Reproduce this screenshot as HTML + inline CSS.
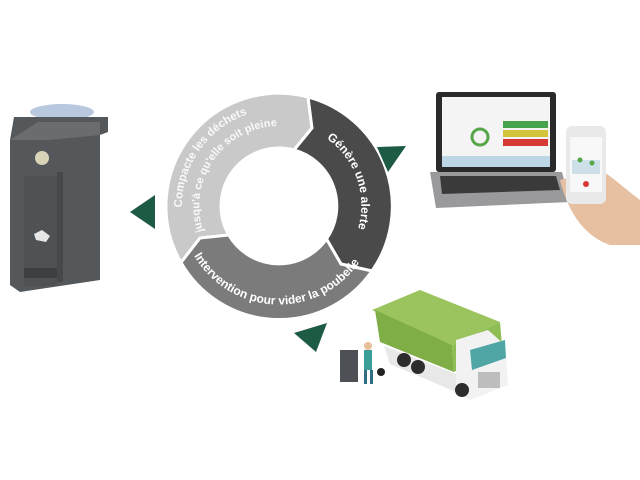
<!DOCTYPE html>
<html><head><meta charset="utf-8"><style>
html,body{margin:0;padding:0;background:#fff;width:640px;height:480px;overflow:hidden}
svg{display:block}
text{font-family:"Liberation Sans",sans-serif;font-weight:bold;fill:#fff}
</style></head><body>
<svg width="640" height="480" viewBox="0 0 640 480" xmlns="http://www.w3.org/2000/svg">
<defs>
<path id="tl1" d="M191,247 A97,97 0 0 1 287.5,109.4"/>
<path id="tl2" d="M204,233 A80,80 0 0 1 279,126"/>
<path id="td" d="M309,129 A82,82 0 0 1 350,247"/>
<path id="tm" d="M190,248 A98,98 0 0 0 364,255"/>
</defs>
<!-- ring -->
<g stroke="#fff" stroke-width="3" stroke-linejoin="miter">
<path d="M181,262.5 A113,113 0 0 1 308,97 L312,128 L294,150 A58,58 0 0 0 228.8,235 L200,238 Z" fill="#c9c9c9"/>
<path d="M308,97 A113,113 0 0 1 372,271 L341,264 L326.5,239 A58,58 0 0 0 294,150 L312,128 Z" fill="#4a4a4a"/>
<path d="M372,271 A113,113 0 0 1 181,262.5 L200,238 L228.8,235 A58,58 0 0 0 326.5,239 L341,264 Z" fill="#7b7b7b"/>
</g>
<text font-size="11.5" opacity="0.9"><textPath href="#tl1" startOffset="50%" text-anchor="middle">Compacte les  déchets</textPath></text>
<text font-size="11" opacity="0.9"><textPath href="#tl2" startOffset="50%" text-anchor="middle">jusqu'à ce qu'elle soit pleine</textPath></text>
<text font-size="12"><textPath href="#td" startOffset="50%" text-anchor="middle">Génère une alerte</textPath></text>
<text font-size="12"><textPath href="#tm" startOffset="50%" text-anchor="middle">Intervention pour vider la poubelle</textPath></text>
<!-- green triangles -->
<g fill="#1d5b44">
<polygon points="130,212 155,195 155,229"/>
<polygon points="377,147 406,146 388,172"/>
<polygon points="294,333 327,323 316,352"/>
</g>
<!-- bin -->
<ellipse cx="62" cy="112" rx="32" ry="8" fill="#b8c8de"/>
<path d="M14,117 L108,117 L108,132 L100,135 L100,280 L20,292 L10,285 L10,140 Z" fill="#55585b"/>
<path d="M10,140 L38,122 L100,122 L100,135 L48,140 Z" fill="#6a6d70"/>
<rect x="24" y="176" width="33" height="110" fill="#4f5255"/>
<rect x="57" y="172" width="6" height="110" fill="#464849"/>
<circle cx="42" cy="158" r="7" fill="#d8d4b8"/>
<path d="M34,234 L42,230 L50,236 L46,242 L36,240 Z" fill="#e6e6e6"/>
<rect x="24" y="268" width="33" height="10" fill="#3d3f41"/>
<!-- laptop -->
<rect x="436" y="92" width="120" height="80" rx="3" fill="#2a2a2a"/>
<rect x="442" y="97" width="108" height="70" fill="#f4f4f4"/>
<rect x="503" y="121" width="45" height="7" fill="#47a34b"/>
<rect x="503" y="130" width="45" height="7" fill="#d4c43a"/>
<rect x="503" y="139" width="45" height="7" fill="#d63a34"/>
<circle cx="480" cy="137" r="8" fill="none" stroke="#58a64a" stroke-width="3"/>
<rect x="442" y="156" width="108" height="11" fill="#bcd6e6"/>
<path d="M430,172 L562,172 L570,202 L436,208 Z" fill="#9a9a9c"/>
<path d="M440,176 L556,176 L560,190 L442,194 Z" fill="#3a3a3a"/>
<!-- phone + hand -->
<path d="M560,180 C570,220 590,238 610,245 L640,245 L640,200 C620,185 605,170 598,170 Z" fill="#e7c0a2"/>
<rect x="566" y="126" width="40" height="78" rx="6" fill="#e9e9e9"/>
<rect x="570" y="137" width="32" height="55" fill="#f8f8f8"/>
<rect x="572" y="160" width="28" height="14" fill="#cde0ea"/>
<circle cx="586" cy="184" r="3" fill="#d63a34"/>
<circle cx="580" cy="160" r="2.5" fill="#58a64a"/><circle cx="592" cy="163" r="2.5" fill="#58a64a"/>
<!-- truck -->
<polygon points="372,310 420,290 500,322 452,345" fill="#9bc45e"/>
<polygon points="375,310 452,345 454,372 380,342" fill="#7fae47"/>
<polygon points="452,345 500,322 502,346 454,372" fill="#8ebd54"/>
<polygon points="384,346 456,374 456,392 390,364" fill="#e8e8e8"/>
<polygon points="456,340 488,330 505,345 508,385 470,400 456,392" fill="#f2f2f2"/>
<polygon points="470,350 505,340 506,358 472,370" fill="#4fa6a5"/>
<rect x="478" y="372" width="22" height="16" fill="#bdbdbd"/>
<circle cx="404" cy="360" r="7" fill="#2d2d2d"/><circle cx="418" cy="367" r="7" fill="#2d2d2d"/>
<circle cx="462" cy="390" r="7" fill="#2d2d2d"/>
<rect x="340" y="350" width="18" height="32" fill="#4d5155"/>
<rect x="364" y="350" width="8" height="20" fill="#3b9e96"/>
<circle cx="368" cy="346" r="4" fill="#e9bf9a"/>
<rect x="364" y="370" width="3" height="14" fill="#2f6e86"/><rect x="370" y="370" width="3" height="14" fill="#2f6e86"/>
<circle cx="381" cy="372" r="4" fill="#222"/>
</svg>
</body></html>
